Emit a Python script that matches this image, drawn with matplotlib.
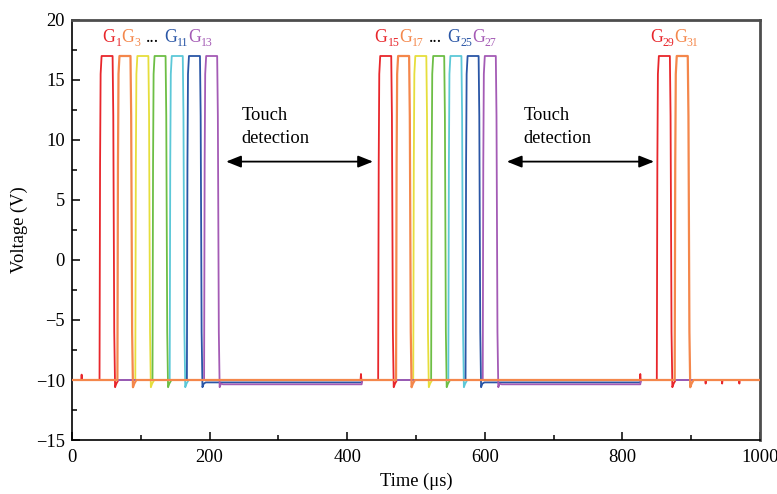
import numpy as np
import matplotlib
matplotlib.use('Agg')
import matplotlib.pyplot as plt
from matplotlib.ticker import MultipleLocator

plt.rcParams['font.family'] = ['Liberation Serif', 'DejaVu Serif']

# ---------------- data ----------------
colors = ['#E8262B', '#F4874B', '#E6DE3C', '#6DBE45', '#5CC8D8', '#2A56A6', '#A45BB5']
group1_start = [40, 66, 92, 117, 142, 167, 192]        # G1..G13 rise (us)
group2_start = [445, 471, 496, 522, 547, 572, 597]     # G15..G27 rise (us)
group3_start = [850, 876]                              # G29, G31 rise (us)
pulse_width = 19.0                                     # us, high time
v_low = -10.0
v_high = 17.0
rise_dt = [0.0, 0.8, 1.6, 3.0]
rise_v = [-10.0, 8.0, 15.5, 17.0]
fall_dt = [0.0, 1.0, 2.4, 3.6, 5.5, 8.5]
fall_v = [17.0, 12.0, -6.0, -10.6, -10.3, -10.0]
# offset of level after the last pulse of a group (purple / blue sit slightly low)
post_offset = [0.0, 0.0, 0.0, 0.0, 0.0, -0.2, -0.36]
release_time = [421, 826]
# small glitches on the red trace
glitch_t = [14, 420, 826, 921, 945, 970]
glitch_v = [-9.55, -9.5, -9.5, -10.3, -10.3, -10.3]

t_end = 1000

# label data
label_main = ['G', 'G', '...', 'G', 'G',
              'G', 'G', '...', 'G', 'G',
              'G', 'G']
label_sub = ['1', '3', '', '11', '13',
             '15', '17', '', '25', '27',
             '29', '31']
label_x = [44.6, 72.2, 108.0, 133.7, 168.6,
           440.0, 475.5, 519.3, 545.5, 581.5,
           840.0, 875.0]
label_color_idx = [0, 1, None, 5, 6, 0, 1, None, 5, 6, 0, 1]
label_y = 18.2

arrow_x = [(224, 437.5), (632, 846)]
arrow_y = 8.2
touch_x = [246.7, 656.0]


def build_trace(k):
    pts = [(0.0, v_low)]
    groups = [group1_start, group2_start, group3_start]
    for gi, g in enumerate(groups):
        if k >= len(g):
            continue
        s = g[k]
        for dt, v in zip(rise_dt, rise_v):
            pts.append((s + dt, v))
        e = s + pulse_width
        off = post_offset[k] if gi < 2 else 0.0
        for j, (dt, v) in enumerate(zip(fall_dt, fall_v)):
            if j == len(fall_dt) - 1:
                v = v + off
            pts.append((e + dt, v))
        if off != 0.0 and gi < 2:
            r = release_time[gi]
            pts.append((r, v_low + off))
            pts.append((r + 1.0, v_low))
    if k == 0:
        for gt, gv in zip(glitch_t, glitch_v):
            pts.append((gt - 0.6, v_low))
            pts.append((gt, gv))
            pts.append((gt + 0.6, v_low))
    pts.append((t_end, v_low))
    pts.sort(key=lambda p: p[0])
    t = np.array([p[0] for p in pts])
    v = np.array([p[1] for p in pts])
    return t, v


fig = plt.figure(figsize=(7.77, 4.94), dpi=100)
ax = fig.add_axes([72 / 777, 54 / 494, 688 / 777, 420 / 494])

order = [0, 2, 3, 4, 5, 6, 1]
for k in order:
    t, v = build_trace(k)
    ax.plot(t, v, color=colors[k], lw=1.3 if k != 1 else 1.6,
            solid_joinstyle='round', zorder=3 if k != 1 else 4)

main_fs = 12.8
sub_fs = 8.5
g_adv = 0.722 * main_fs  # advance width of 'G' in points
for m, sub, x, ci in zip(label_main, label_sub, label_x, label_color_idx):
    c = 'black' if ci is None else colors[ci]
    ax.text(x, label_y, m, color=c, fontsize=main_fs, va='baseline', ha='left')
    if sub:
        ax.annotate(sub, xy=(x, label_y), xycoords='data',
                    xytext=(g_adv, -3.2), textcoords='offset points',
                    color=c, fontsize=sub_fs, va='baseline', ha='left')

for (x0, x1), tx in zip(arrow_x, touch_x):
    ax.annotate('', xy=(x0, arrow_y), xytext=(x1, arrow_y),
                arrowprops=dict(arrowstyle='<|-|>,head_length=0.45,head_width=0.18',
                                color='black', lw=1.3, mutation_scale=20,
                                shrinkA=0, shrinkB=0))
    ax.text(tx, 11.67, 'Touch', fontsize=13.3, va='baseline', ha='left')
    ax.text(tx, 9.75, 'detection', fontsize=13.3, va='baseline', ha='left')

ax.set_xlim(0, 1000)
ax.set_ylim(-15, 20)
ax.xaxis.set_major_locator(MultipleLocator(200))
ax.xaxis.set_minor_locator(MultipleLocator(100))
ax.yaxis.set_major_locator(MultipleLocator(5))
ax.yaxis.set_minor_locator(MultipleLocator(2.5))
ax.tick_params(which='both', direction='in', top=False, right=False,
               labelsize=13.3, width=1.1)
ax.tick_params(which='major', length=6)
ax.tick_params(which='minor', length=3.5)
ax.tick_params(axis='x', which='major', pad=6.5)
ax.tick_params(axis='y', which='major', pad=5)

for s in ['left', 'bottom']:
    ax.spines[s].set_color('black')
    ax.spines[s].set_linewidth(1.2)
for s in ['top', 'right']:
    ax.spines[s].set_color('#4d4d4d')
    ax.spines[s].set_linewidth(2.0)

ax.set_xlabel('Time (μs)', fontsize=13.3, labelpad=5)
ax.set_ylabel('Voltage (V)', fontsize=13.3, labelpad=6)

fig.savefig('out.png', dpi=100)
